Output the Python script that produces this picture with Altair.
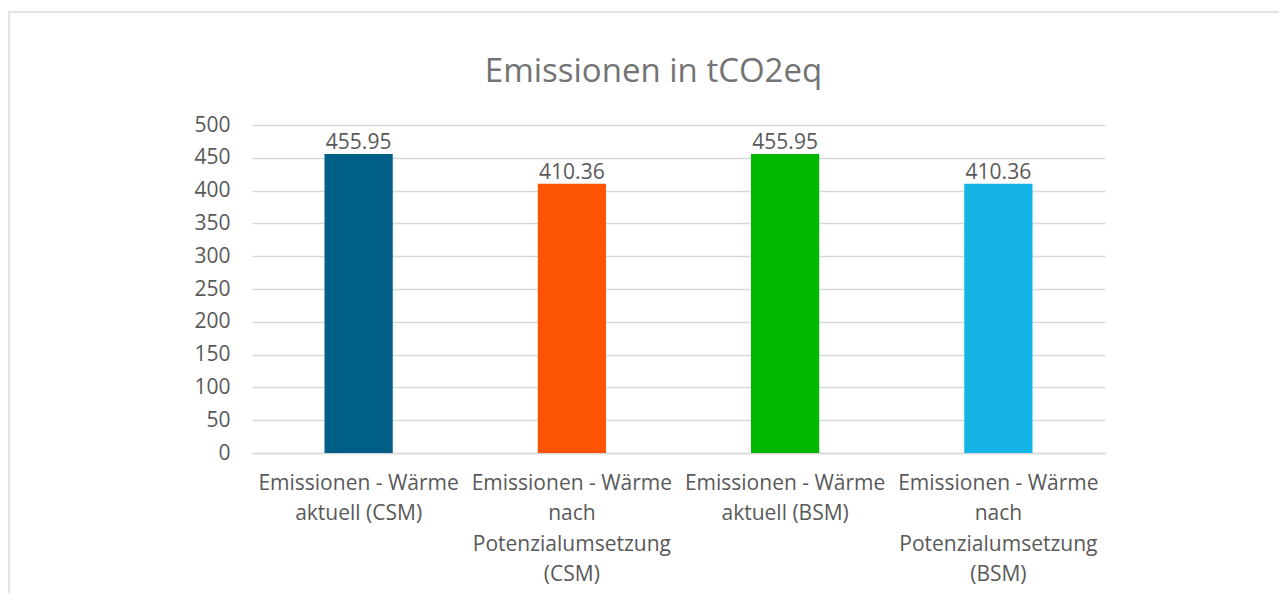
import altair as alt
import pandas as pd

categories = [
    "Emissionen - Wärme|aktuell (CSM)",
    "Emissionen - Wärme|nach|Potenzialumsetzung|(CSM)",
    "Emissionen - Wärme|aktuell (BSM)",
    "Emissionen - Wärme|nach|Potenzialumsetzung|(BSM)",
]
values = [455.95, 410.36, 455.95, 410.36]
colors = ["#005F87", "#FC5404", "#00B800", "#14B4E6"]
y_ticks = [0, 50, 100, 150, 200, 250, 300, 350, 400, 450, 500]

df = pd.DataFrame({"cat": categories, "val": values, "col": colors,
                   "lbl": [f"{v:.2f}" for v in values]})

FONT = "Open Sans"
GRAY = "#595959"

x = alt.X("cat:N", sort=categories, title=None,
          scale=alt.Scale(paddingInner=0.68, paddingOuter=0.34),
          axis=alt.Axis(labelExpr="split(datum.label, '|')", labelAngle=0,
                        labelFont=FONT, labelFontSize=21, labelColor=GRAY,
                        labelLineHeight=30.5, labelPadding=19, ticks=False,
                        domain=True, domainColor="#D9D9D9", domainWidth=1.5,
                        labelLimit=300))
y = alt.Y("val:Q", title=None,
          scale=alt.Scale(domain=[0, 500], nice=False),
          axis=alt.Axis(values=y_ticks, labelFont=FONT, labelFontSize=21,
                        labelColor=GRAY, ticks=False, domain=False,
                        labelOverlap=False, labelPadding=22,
                        gridColor="#D9D9D9", gridWidth=1.5))

bars = alt.Chart(df).mark_bar().encode(
    x=x, y=y, color=alt.Color("col:N", scale=None))

text = alt.Chart(df).mark_text(baseline="bottom", dy=-1, font=FONT,
                               fontSize=21, color=GRAY).encode(
    x=x, y=y, text="lbl:N")

frame = alt.Chart(df).mark_rect(filled=False, stroke="#E3E3E3", strokeWidth=2,
                                clip=False).encode(
    x=alt.value(-243), x2=alt.value(1200), y=alt.value(-113), y2=alt.value(600))

chart = alt.layer(frame, bars, text).properties(
    width=853, height=328,
    autosize=alt.AutoSizeParams(type="none"),
    padding={"left": 244, "top": 117, "right": 174, "bottom": 140},
    title=alt.TitleParams("Emissionen in tCO2eq", font=FONT, fontSize=33,
                          fontWeight="normal", color="#737373",
                          anchor="middle", frame="group", dx=-25, offset=-104,
                          baseline="alphabetic"),
).configure_view(stroke=None)

chart.save("out.html", embed_options={"renderer": "svg", "actions": False})
